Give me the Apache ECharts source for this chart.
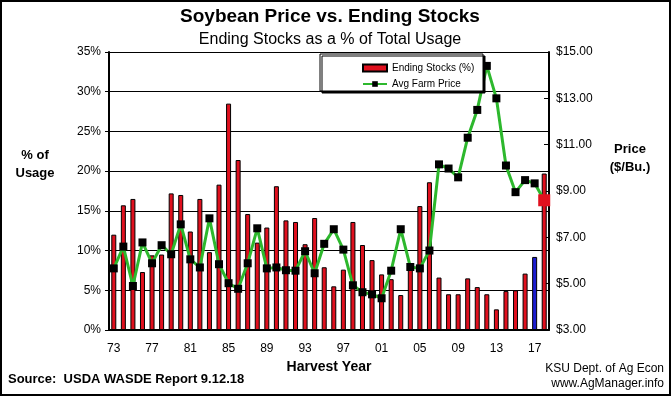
<!DOCTYPE html>
<html>
<head>
<meta charset="utf-8">
<script src="https://cdn.jsdelivr.net/npm/echarts@6/dist/echarts.min.js"></script>
<style>
  html, body { margin: 0; padding: 0; background: #fff; }
  #chart { width: 671px; height: 396px; }
</style>
</head>
<body>
<div id="chart"></div>
<script>
// harvest years 1973..2018
const years = ['73','74','75','76','77','78','79','80','81','82','83','84','85','86','87','88','89','90','91','92','93','94','95','96','97','98','99','00','01','02','03','04','05','06','07','08','09','10','11','12','13','14','15','16','17','18'];

// ending stocks as % of total usage
const endingStocks = [12.0, 15.7, 16.5, 7.3, 9.4, 9.5, 17.2, 17.0, 12.4, 16.5, 9.8, 18.3, 28.5, 21.4, 14.6, 11.0, 12.9, 18.1, 13.8, 13.6, 10.8, 14.1, 7.9, 5.5, 7.6, 13.6, 10.7, 8.8, 7.0, 6.4, 4.4, 7.6, 15.6, 18.6, 6.6, 4.5, 4.5, 6.5, 5.4, 4.5, 2.6, 4.9, 5.0, 7.1, 9.2, 19.7];

// average farm price $/bu
const farmPrice = [5.66, 6.60, 4.90, 6.78, 5.88, 6.66, 6.27, 7.56, 6.05, 5.70, 7.82, 5.84, 5.02, 4.78, 5.88, 7.39, 5.66, 5.70, 5.58, 5.56, 6.40, 5.45, 6.72, 7.35, 6.47, 4.93, 4.63, 4.54, 4.37, 5.56, 7.35, 5.72, 5.66, 6.43, 10.15, 9.97, 9.59, 11.30, 12.50, 14.40, 13.00, 10.10, 8.95, 9.47, 9.33, 8.60];

const pctTicks = { min: 0, max: 35, step: 5 };
const priceTicks = { min: 3, max: 15, step: 2 };

const chart = echarts.init(document.getElementById('chart'));
const font = 'Liberation Sans, Arial, sans-serif';

const barData = endingStocks.map(function(v, i) {
  if (years[i] === '17') {
    return { value: v, itemStyle: { color: '#1c1cd0' } };
  }
  return v;
});

const priceData = farmPrice.map(function(v, i) {
  if (i === farmPrice.length - 1) {
    return { value: v, symbolSize: 12, itemStyle: { color: '#e0101e' } };
  }
  return v;
});

const option = {
  animation: false,
  backgroundColor: '#fff',
  textStyle: { fontFamily: font, color: '#000' },
  grid: { left: 109, right: 122, top: 52, bottom: 66 },
  legend: {
    orient: 'vertical',
    left: 357,
    top: 58,
    itemGap: 6,
    itemWidth: 24,
    itemHeight: 7,
    z: 10,
    textStyle: { fontSize: 10, fontFamily: font, color: '#000' },
    data: [
      { name: 'Ending Stocks (%)', icon: 'rect' },
      { name: 'Avg Farm Price' }
    ]
  },
  xAxis: {
    type: 'category',
    data: years,
    boundaryGap: true,
    axisLine: { lineStyle: { color: '#000', width: 2 } },
    axisTick: { interval: 3, length: 5, lineStyle: { color: '#000' } },
    axisLabel: { interval: 3, fontSize: 12, margin: 13, color: '#000' },
    name: 'Harvest Year',
    nameLocation: 'middle',
    nameGap: 30,
    nameTextStyle: { fontWeight: 'bold', fontSize: 14, color: '#000' }
  },
  yAxis: [
    {
      type: 'value',
      min: pctTicks.min,
      max: pctTicks.max,
      interval: pctTicks.step,
      axisLine: { show: true, lineStyle: { color: '#000', width: 2 } },
      axisTick: { show: true, length: 4, lineStyle: { color: '#000' } },
      axisLabel: { formatter: '{value}%', fontSize: 12, margin: 8, color: '#000' },
      splitLine: { lineStyle: { color: '#000', width: 1 } }
    },
    {
      type: 'value',
      min: priceTicks.min,
      max: priceTicks.max,
      interval: priceTicks.step,
      axisLine: { show: true, lineStyle: { color: '#000', width: 2 } },
      axisTick: { show: true, inside: true, length: 5, lineStyle: { color: '#000' } },
      axisLabel: {
        formatter: function(v) { return '$' + v.toFixed(2); },
        fontSize: 12, margin: 7, color: '#000'
      },
      splitLine: { show: false }
    }
  ],
  series: [
    {
      name: 'Ending Stocks (%)',
      type: 'bar',
      yAxisIndex: 0,
      data: barData,
      barWidth: 5,
      itemStyle: { color: '#e0101e', borderColor: '#000', borderWidth: 1 }
    },
    {
      name: 'Avg Farm Price',
      type: 'line',
      yAxisIndex: 1,
      data: priceData,
      symbol: 'rect',
      symbolSize: 8,
      showAllSymbol: true,
      lineStyle: { color: '#2db82d', width: 3 },
      itemStyle: { color: '#000' },
      z: 3
    }
  ],
  graphic: [
    {
      type: 'rect', z: 5, silent: true,
      shape: { x: 320, y: 54, width: 163, height: 37 },
      style: { fill: '#fff', stroke: '#000', lineWidth: 1, shadowColor: '#000', shadowOffsetX: 2, shadowOffsetY: 2, shadowBlur: 0 }
    },
    {
      type: 'rect', z: 0, silent: true,
      shape: { x: 1, y: 1, width: 669, height: 394 },
      style: { fill: 'none', stroke: '#000', lineWidth: 2 }
    },
    {
      type: 'text', x: 330, y: 7,
      style: { text: 'Soybean Price vs. Ending Stocks', font: 'bold 19px ' + font, fill: '#000', align: 'center' }
    },
    {
      type: 'text', x: 330, y: 32,
      style: { text: 'Ending Stocks as a % of Total Usage', font: '16px ' + font, fill: '#000', align: 'center' }
    },
    {
      type: 'text', x: 35, y: 146,
      style: { text: '% of\nUsage', font: 'bold 13px ' + font, fill: '#000', align: 'center', lineHeight: 18 }
    },
    {
      type: 'text', x: 630, y: 140,
      style: { text: 'Price\n($/Bu.)', font: 'bold 13px ' + font, fill: '#000', align: 'center', lineHeight: 18 }
    },
    {
      type: 'text', x: 8, y: 373,
      style: { text: 'Source:  USDA WASDE Report 9.12.18', font: 'bold 13px ' + font, fill: '#000' }
    },
    {
      type: 'text', x: 664, y: 361,
      style: { text: 'KSU Dept. of Ag Econ\nwww.AgManager.info', font: '12px ' + font, fill: '#000', align: 'right', lineHeight: 15 }
    }
  ]
};

chart.setOption(option);
</script>
</body>
</html>
